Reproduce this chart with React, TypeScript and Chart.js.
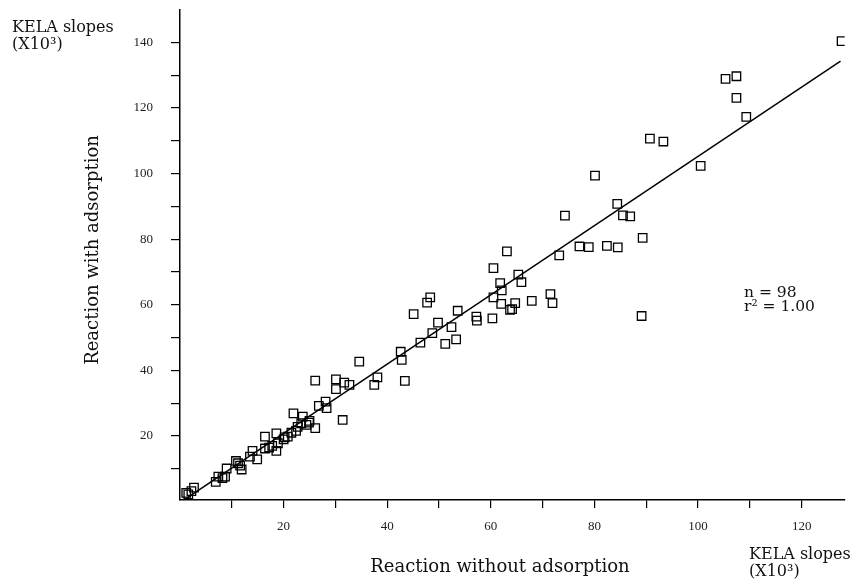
import React, { useEffect, useRef } from 'react';
import { Chart, registerables } from 'chart.js';

Chart.register(...registerables);

// KELA slopes (x10^3): reaction without adsorption (x) vs with adsorption (y)
const xValues = [
  1.2, 2.7, 6.9, 7.4, 8.7, 9.0, 10.8, 11.2, 11.9, 13.5, 14.0, 14.9, 16.4, 16.4, 17.2,
  18.6, 18.9, 18.6, 20.2, 20.8, 21.9, 22.4, 22.7, 23.7, 23.4, 24.4, 24.9, 26.1, 26.1,
  26.8, 28.1, 28.3, 30.1, 30.1, 31.4, 31.7, 32.7, 34.6, 37.5, 38.1,
  42.6, 42.8, 43.4, 45.1, 46.4, 47.7, 48.3, 48.7, 49.8, 51.2, 52.4, 53.3, 53.6, 57.2,
  57.3, 60.3, 60.5, 60.5, 61.8, 62.0, 62.1, 63.1, 63.7, 64.1, 64.7, 65.3, 65.9, 67.9,
  71.5, 71.9, 73.2,
  74.3, 77.1, 78.9, 80.1, 82.4, 84.4, 84.5, 85.5, 86.9, 89.3, 89.1, 90.7, 93.3, 100.5,
  105.3, 107.4, 107.4, 109.3, 127.7,
  1.6, 2.2, 8.2, 11.6, 17.8, 21.5, 25.0, 20.0,
];
const yValues = [
  2.7, 4.3, 6.0, 7.6, 7.6, 10.1, 12.4, 11.7, 9.8, 13.7, 15.5, 12.9, 19.8, 16.2, 16.5,
  20.8, 17.8, 15.5, 19.6, 19.8, 26.9, 21.6, 22.8, 25.9, 23.9, 23.4, 24.1, 22.4, 36.9,
  29.2, 30.5, 28.5, 37.3, 34.3, 24.9, 36.3, 35.6, 42.7, 35.6, 37.9,
  45.7, 43.2, 36.8, 57.2, 48.5, 60.7, 62.3, 51.4, 54.6, 48.1, 53.2, 49.5, 58.2, 56.4,
  55.2, 55.9, 62.3, 71.2, 66.6, 60.3, 64.4, 76.3, 58.5, 58.7, 60.5, 69.2, 66.9, 61.2,
  63.3, 60.5, 75.1,
  87.2, 77.8, 77.6, 99.4, 78.0, 90.8, 77.5, 87.3, 87.0, 80.4, 56.6, 110.7, 109.8, 102.4,
  128.9, 129.7, 123.1, 117.3, 140.4,
  2.2, 3.2, 7.2, 11.0, 17.0, 21.0, 24.6, 19.0,
];

// regression line end points
const fitX = [1.0, 127.5];
const fitY = [0.8, 134.3];

const xRange = [0, 128.3];
const yRange = [0.5, 149.9];
const tickStep = 10;
const labelStep = 20;

const SERIF = '"DejaVu Serif", serif';

const textPlugin = {
  id: 'annotText',
  afterDraw(chart: any) {
    const ctx = chart.ctx;
    ctx.save();
    ctx.fillStyle = '#111';
    ctx.textBaseline = 'middle';
    ctx.textAlign = 'left';
    ctx.font = `16px ${SERIF}`;
    ctx.fillText('KELA slopes', 12, 28);
    ctx.fillText('(X10³)', 12, 45);
    ctx.fillText('KELA slopes', 749, 555);
    ctx.fillText('(X10³)', 749, 572);
    ctx.font = `15.5px ${SERIF}`;
    ctx.fillText('n = 98', 744, 293);
    ctx.fillText('r² = 1.00', 744, 307);

    ctx.font = `18px ${SERIF}`;
    ctx.textAlign = 'center';
    ctx.fillText('Reaction without adsorption', 500, 567);
    ctx.translate(93, 250);
    ctx.rotate(-Math.PI / 2);
    ctx.fillText('Reaction with adsorption', 0, 0);
    ctx.restore();
  },
};

export default function App() {
  const ref = useRef<HTMLCanvasElement | null>(null);

  useEffect(() => {
    if (!ref.current) return;
    const points = xValues.map((x, i) => ({ x, y: yValues[i] }));
    const fit = fitX.map((x, i) => ({ x, y: fitY[i] }));
    const tickFont = { family: '"Liberation Serif", serif', size: 13 };
    const gridColor = (c: any) => (c.tick && c.tick.value === 0 ? 'rgba(0,0,0,0)' : '#000');
    const zeroPad = (s: any) => {
      s.paddingTop = 0;
      s.paddingBottom = 0;
      s.paddingLeft = 0;
      s.paddingRight = 0;
    };

    const chart = new Chart(ref.current, {
      type: 'scatter',
      data: {
        datasets: [
          {
            data: points,
            pointStyle: 'rect',
            pointRadius: 6,
            pointBorderWidth: 1.3,
            borderColor: '#000',
            backgroundColor: 'rgba(0,0,0,0)',
            showLine: false,
          },
          {
            data: fit,
            showLine: true,
            pointRadius: 0,
            borderColor: '#000',
            borderWidth: 1.5,
            backgroundColor: 'rgba(0,0,0,0)',
          },
        ],
      },
      options: {
        responsive: false,
        devicePixelRatio: 1,
        animation: false,
        layout: { padding: { left: 0, right: -4, top: 10, bottom: 0 } },
        plugins: { legend: { display: false }, tooltip: { enabled: false } },
        scales: {
          x: {
            type: 'linear',
            min: xRange[0],
            max: xRange[1],
            border: { display: true, color: '#000', width: 1.5 },
            grid: { drawOnChartArea: false, drawTicks: true, tickLength: 8, color: gridColor, lineWidth: 1.2 },
            ticks: {
              stepSize: tickStep,
              includeBounds: false,
              autoSkip: false,
              maxRotation: 0,
              padding: 11,
              color: '#222',
              font: tickFont,
              callback: (v: any) => (v % labelStep === 0 && v !== 0 ? String(v) : ''),
            },
            afterFit: (s: any) => {
              s.height = 85;
              zeroPad(s);
            },
          },
          y: {
            type: 'linear',
            min: yRange[0],
            max: yRange[1],
            border: { display: true, color: '#000', width: 1.5 },
            grid: { drawOnChartArea: false, drawTicks: true, tickLength: 9, color: gridColor, lineWidth: 1.2 },
            ticks: {
              stepSize: tickStep,
              includeBounds: false,
              autoSkip: false,
              padding: 18,
              color: '#222',
              font: tickFont,
              callback: (v: any) => (v % labelStep === 0 && v !== 0 ? String(v) : ''),
            },
            afterFit: (s: any) => {
              s.width = 180;
              zeroPad(s);
            },
          },
        },
      },
      plugins: [textPlugin],
    } as any);
    return () => chart.destroy();
  }, []);

  return (
    <div style={{ position: 'fixed', left: 0, top: 0, width: 852, height: 585, background: '#fff' }}>
      <canvas ref={ref} width={852} height={585} style={{ width: 852, height: 585 }} />
    </div>
  );
}
